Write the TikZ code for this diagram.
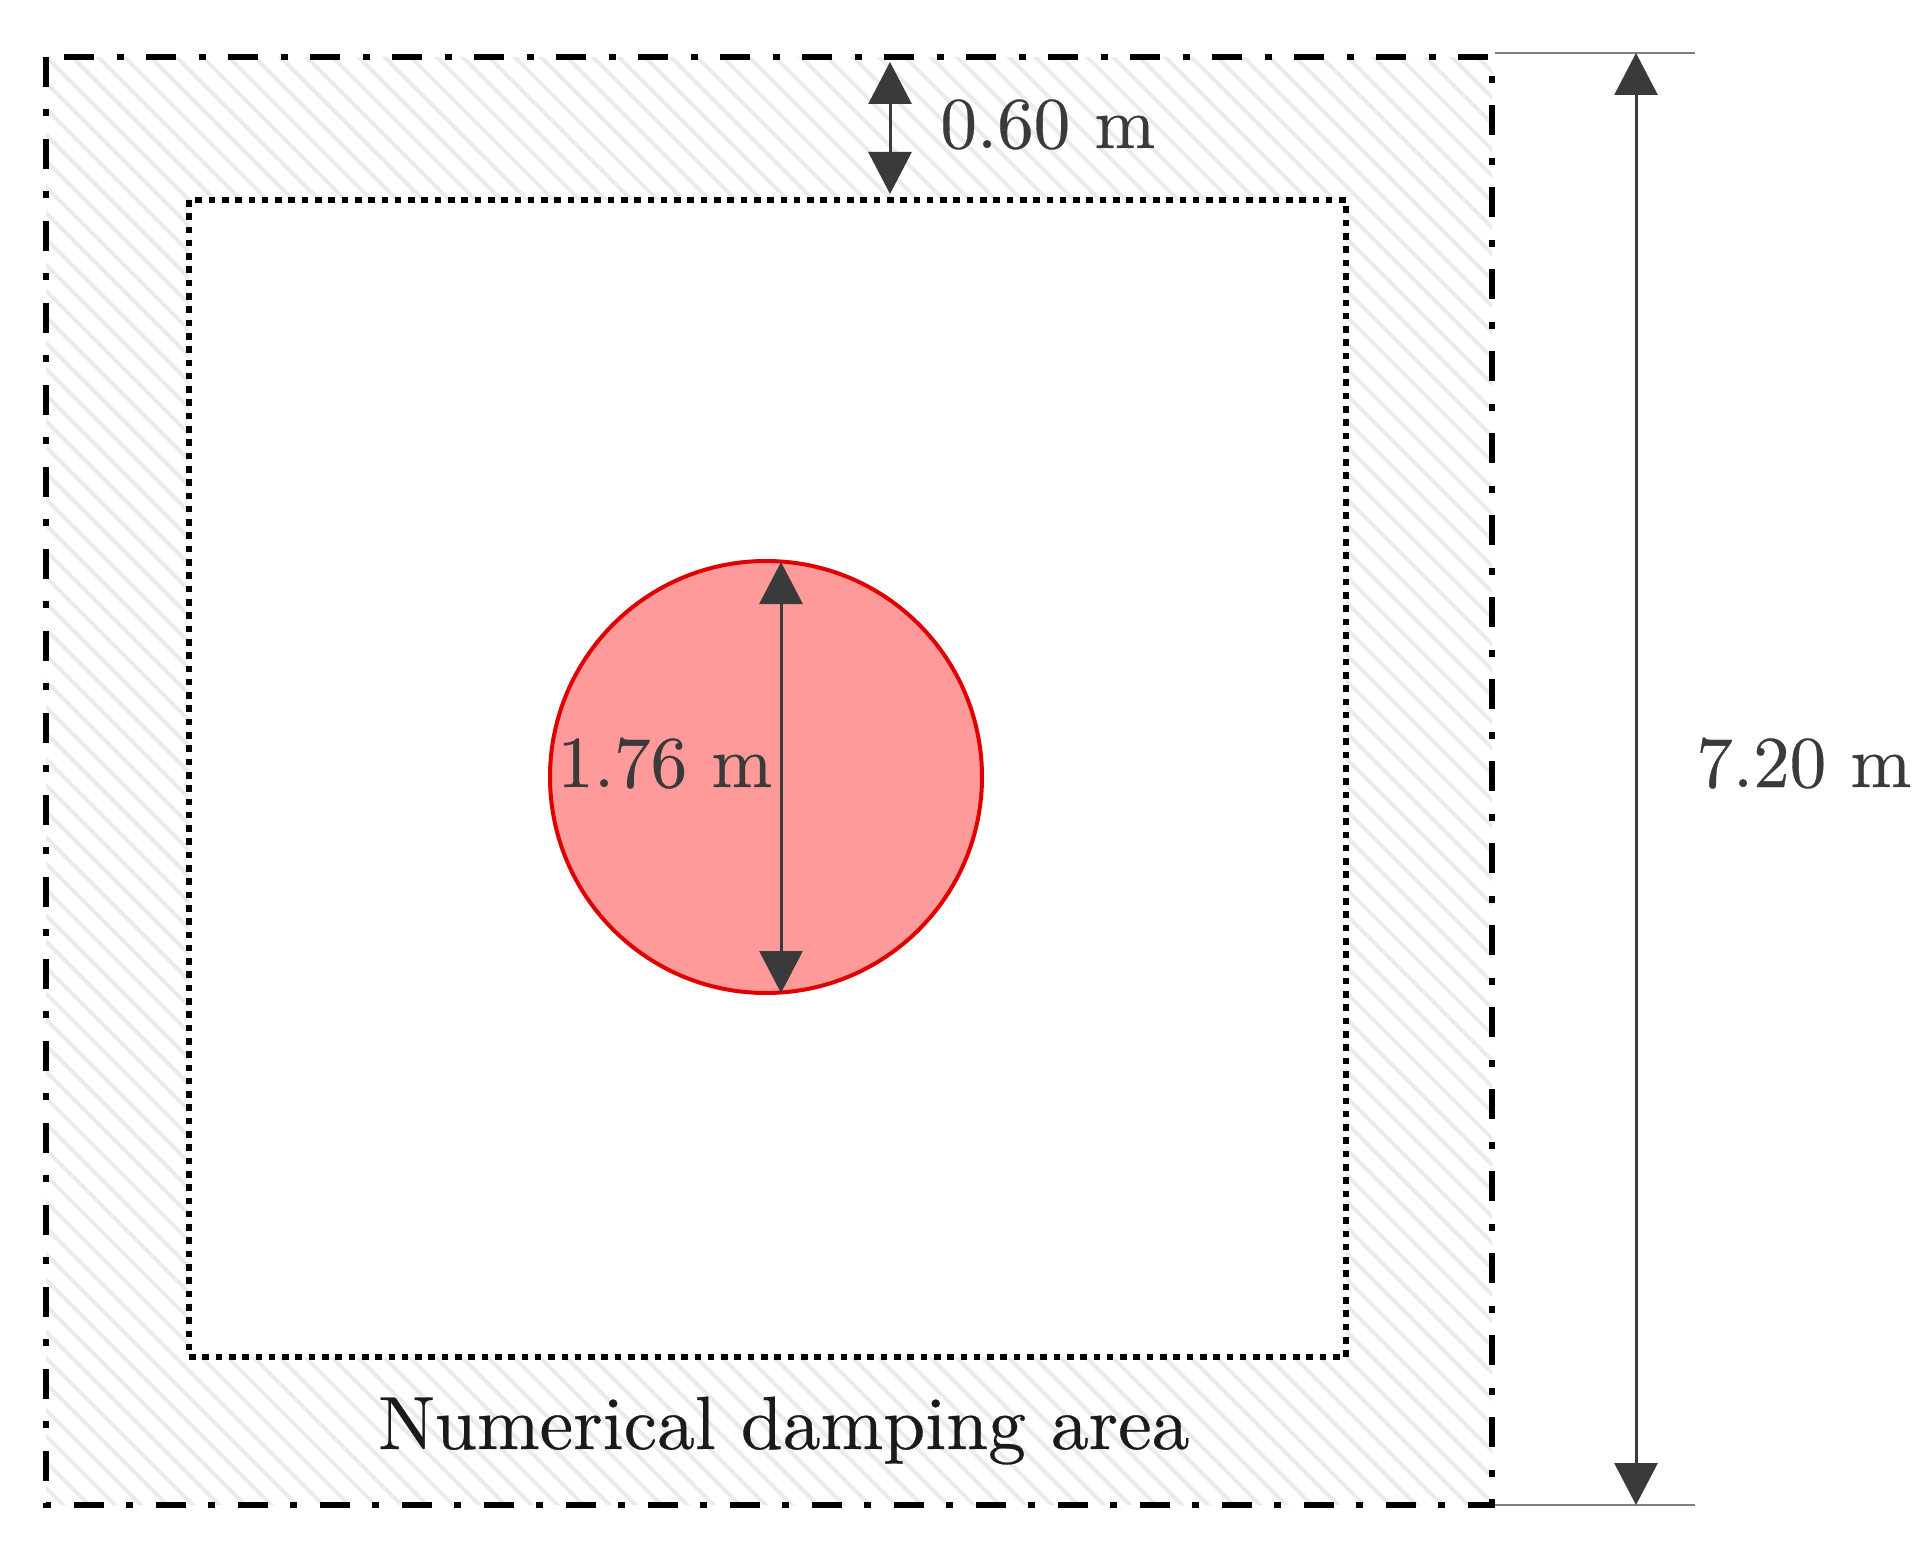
\documentclass[tikz,border=0pt]{standalone}
\usepackage{fontspec}
\usetikzlibrary{arrows.meta,patterns.meta}
\newfontfamily\lmwide{lmroman10-regular.otf}[FakeBold=0.4]
\definecolor{dimgrey}{HTML}{3A3A3A}
\definecolor{extgrey}{HTML}{808080}
\definecolor{circfill}{HTML}{FF9A9A}
\definecolor{circedge}{HTML}{E00000}
\definecolor{hatchgrey}{HTML}{EBEBEB}
\definecolor{txtdark}{HTML}{1A1A1A}
\begin{document}
\begin{tikzpicture}[x=0.5pt,y=-0.5pt,
  outerline/.style={draw=black, line width=3pt, dash pattern=on 15pt off 11pt on 3.5pt off 11.5pt},
  innerline/.style={draw=black, line width=2.6pt, dash pattern=on 3.3pt off 3.35pt},
  hatch/.style={pattern={Lines[angle=-45,distance=9.2pt,line width=2pt]}, pattern color=hatchgrey},
  dimarrow/.style={draw=dimgrey, line width=1.5pt,
    {Triangle[length=21pt,width=21.5pt]}-{Triangle[length=21pt,width=21.5pt]}},
  extline/.style={draw=extgrey, line width=1.1pt},
  dimlabel/.style={inner sep=0pt, anchor=base west, text=dimgrey, font=\lmwide\fontsize{36.5}{44}\selectfont},
  arealabel/.style={inner sep=0pt, anchor=base west, text=txtdark, font=\lmwide\fontsize{37.7}{46}\selectfont},
  pile/.style={circle, draw=circedge, fill=circfill, line width=2pt, minimum size=216pt, inner sep=0pt}
]
\useasboundingbox (0,0) rectangle (1924,1546);
% corners
\coordinate (oTL) at (46,57);
\coordinate (oBR) at (1492,1505);
\coordinate (iTL) at (189,200);
\coordinate (iBR) at (1346,1357);
% hatched damping band
\fill[hatch, even odd rule] (oTL) rectangle (oBR) (iTL) rectangle (iBR);
% boundaries
\draw[outerline] (oTL) rectangle (oBR);
\draw[innerline] (iTL) rectangle (iBR);
% cylinder
\node[pile] (cyl) at (766,777) {};
\coordinate (dTop) at (781,562);
\coordinate (dBot) at (781,993);
\draw[dimarrow] (dTop) -- (dBot);
\node[dimlabel] (ldiam) at (557,787) {1.76 m};
% 0.60 m
\coordinate (sTop) at (890,62);
\coordinate (sBot) at (890,194);
\draw[dimarrow] (sTop) -- (sBot);
\node[dimlabel] (lband) at (940,148) {0.60 m};
% 7.20 m
\coordinate (eT1) at (1495,53);
\coordinate (eT2) at (1695,53);
\coordinate (eB1) at (1495,1505);
\coordinate (eB2) at (1695,1505);
\draw[extline] (eT1) -- (eT2);
\draw[extline] (eB1) -- (eB2);
\coordinate (hTop) at (1636,53);
\coordinate (hBot) at (1636,1505);
\draw[dimarrow] (hTop) -- (hBot);
\node[dimlabel] (lwidth) at (1696,787) {7.20 m};
% area label
\node[arealabel] (larea) at (378,1449) {Numerical damping area};
\end{tikzpicture}
\end{document}
